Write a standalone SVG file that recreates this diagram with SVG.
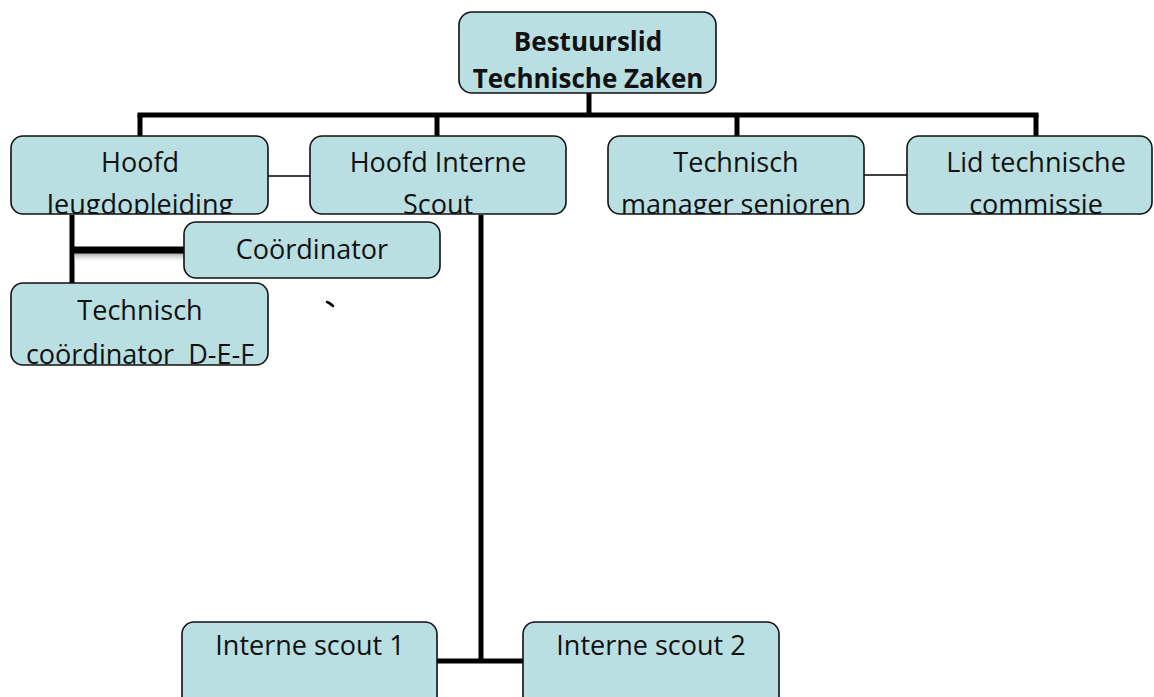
<svg xmlns="http://www.w3.org/2000/svg" width="1154" height="697" viewBox="0 0 1154 697">
  <style>
    .box { fill: #b9dfe3; stroke: #111; stroke-width: 1.6; }
    .t { font-family: "Open Sans", "Noto Sans", sans-serif; font-size: 27px; fill: #111; text-anchor: middle; }
    .tb { font-family: "Open Sans", "Noto Sans", sans-serif; font-size: 26px; font-weight: bold; fill: #111; text-anchor: middle; }
    .thick { stroke: #000; stroke-width: 5; fill: none; }
    .thin { stroke: #000; stroke-width: 1.5; fill: none; }
  </style>
  <defs>
    <linearGradient id="sh" x1="0" y1="0" x2="0" y2="1">
      <stop offset="0" stop-color="#888" stop-opacity="0.8"/>
      <stop offset="1" stop-color="#fff" stop-opacity="0"/>
    </linearGradient>
    <clipPath id="cA"><rect x="11" y="136" width="257" height="78" rx="12"/></clipPath>
    <clipPath id="cB"><rect x="310" y="136" width="256" height="78" rx="12"/></clipPath>
    <clipPath id="cC"><rect x="608" y="136" width="256" height="78" rx="12"/></clipPath>
    <clipPath id="cD"><rect x="907" y="136" width="245" height="78" rx="12"/></clipPath>
    <clipPath id="cF"><rect x="11" y="283" width="257" height="82" rx="12"/></clipPath>
  </defs>

  <g id="connectors">
    <line class="thick" x1="589" y1="93" x2="589" y2="115"/>
    <line class="thick" x1="137.5" y1="115" x2="1038.5" y2="115"/>
    <line class="thick" x1="140" y1="115" x2="140" y2="136"/>
    <line class="thick" x1="437" y1="115" x2="437" y2="136"/>
    <line class="thick" x1="737" y1="115" x2="737" y2="136"/>
    <line class="thick" x1="1036" y1="115" x2="1036" y2="136"/>
    <line class="thin" x1="268" y1="176" x2="310" y2="176"/>
    <line class="thin" x1="864" y1="175" x2="907" y2="175"/>
    <line class="thick" x1="72" y1="215" x2="72" y2="283"/>
    <rect x="74" y="253" width="110" height="10" fill="url(#sh)"/>
    <line stroke="#000" stroke-width="7" x1="72" y1="250" x2="184" y2="250"/>
    <line class="thick" x1="481" y1="215" x2="481" y2="663"/>
    <line class="thick" x1="437" y1="661" x2="523" y2="661"/>
    <path d="M327 302 Q330 303 333 306" stroke="#000" stroke-width="2.5" fill="none" stroke-linecap="round"/>
  </g>

  <g id="n-bestuurslid">
    <rect class="box" x="459" y="12" width="257" height="81" rx="13"/>
    <text class="tb" x="588" y="51">Bestuurslid</text>
    <text class="tb" x="588" y="88">Technische Zaken</text>
  </g>

  <g id="n-hoofd-jeugd">
    <rect class="box" x="11" y="136" width="257" height="78" rx="12"/>
    <g clip-path="url(#cA)">
      <text class="t" x="140" y="172">Hoofd</text>
      <text class="t" x="140" y="214">Jeugdopleiding</text>
    </g>
  </g>

  <g id="n-hoofd-interne">
    <rect class="box" x="310" y="136" width="256" height="78" rx="12"/>
    <g clip-path="url(#cB)">
      <text class="t" x="438" y="172">Hoofd Interne</text>
      <text class="t" x="438" y="214">Scout</text>
    </g>
  </g>

  <g id="n-tech-manager">
    <rect class="box" x="608" y="136" width="256" height="78" rx="12"/>
    <g clip-path="url(#cC)">
      <text class="t" x="736" y="172">Technisch</text>
      <text class="t" x="736" y="214">manager senioren</text>
    </g>
  </g>

  <g id="n-lid-tc">
    <rect class="box" x="907" y="136" width="245" height="78" rx="12"/>
    <g clip-path="url(#cD)">
      <text class="t" x="1036" y="172">Lid technische</text>
      <text class="t" x="1036" y="214">commissie</text>
    </g>
  </g>

  <g id="n-coordinator">
    <rect class="box" x="184" y="222" width="256" height="56" rx="12"/>
    <text class="t" x="312" y="259">Coördinator</text>
  </g>

  <g id="n-tech-coord-def">
    <rect class="box" x="11" y="283" width="257" height="82" rx="12"/>
    <g clip-path="url(#cF)">
      <text class="t" x="140" y="320">Technisch</text>
      <text class="t" x="140" y="364" xml:space="preserve">coördinator  D-E-F</text>
    </g>
  </g>

  <g id="n-scout1">
    <rect class="box" x="182" y="622" width="255" height="90" rx="12"/>
    <text class="t" x="310" y="655">Interne scout 1</text>
  </g>

  <g id="n-scout2">
    <rect class="box" x="523" y="622" width="256" height="90" rx="12"/>
    <text class="t" x="651" y="655">Interne scout 2</text>
  </g>
</svg>
